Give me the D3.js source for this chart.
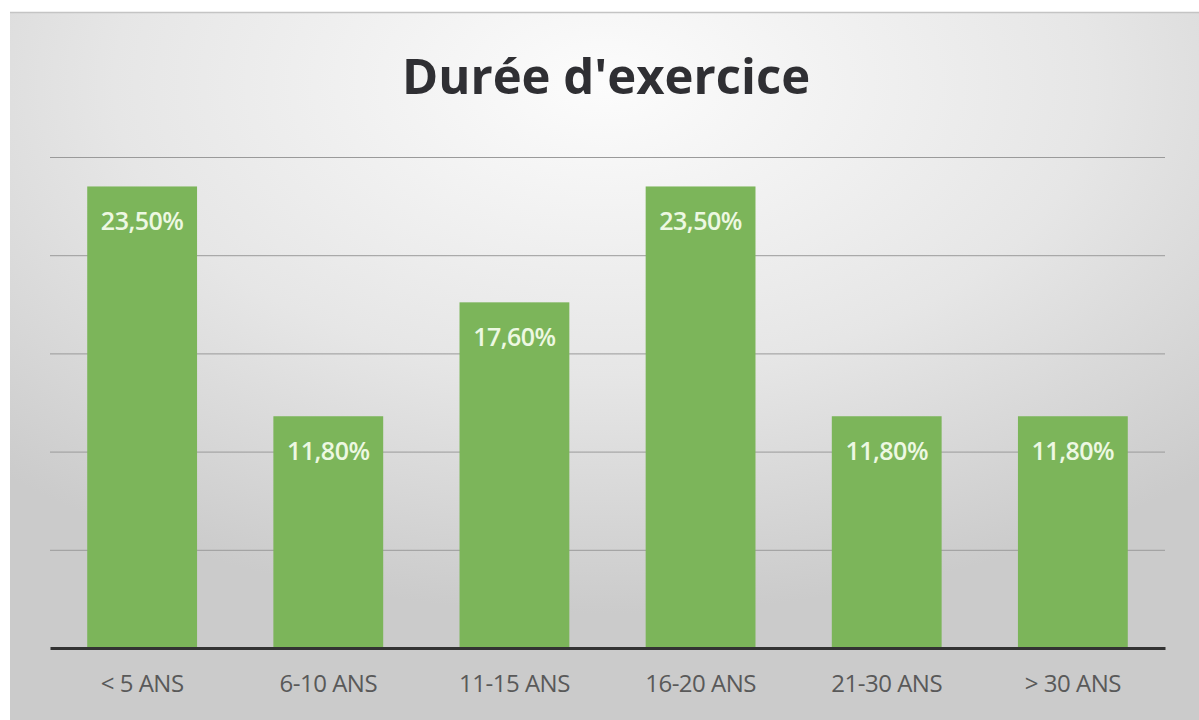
<!DOCTYPE html>
<html>
<head>
<meta charset="utf-8">
<script src="https://cdn.jsdelivr.net/npm/d3@7"></script>
<style>
  body { margin: 0; background: #fff; }
</style>
</head>
<body>
<div id="chart"></div>
<script>
// Durée d'exercice - simple bar chart, percentages
const categories = ["< 5 ANS", "6-10 ANS", "11-15 ANS", "16-20 ANS", "21-30 ANS", "> 30 ANS"];
const values = [23.5, 11.8, 17.6, 23.5, 11.8, 11.8];
const yTicks = [0, 5, 10, 15, 20, 25];

const width = 1199, height = 720;
const plot = { left: 50, right: 1165, top: 157, bottom: 648 };

const svg = d3.select("#chart")
  .append("svg")
    .attr("width", width)
    .attr("height", height);

// radial background like the Excel style
const defs = svg.append("defs");
const grad = defs.append("radialGradient")
  .attr("id", "bg")
  .attr("cx", "50%").attr("cy", "10%")
  .attr("r", "75%");
grad.append("stop").attr("offset", "0%").attr("stop-color", "#fcfcfc");
grad.append("stop").attr("offset", "55%").attr("stop-color", "#e6e6e6");
grad.append("stop").attr("offset", "100%").attr("stop-color", "#cbcbcb");

svg.append("rect")
  .attr("x", 10).attr("y", 12)
  .attr("width", width - 10).attr("height", height - 12)
  .attr("fill", "url(#bg)");
svg.append("line")
  .attr("x1", 10).attr("x2", width)
  .attr("y1", 12.5).attr("y2", 12.5)
  .attr("stroke", "#c4c4c4").attr("stroke-width", 1.5);

// title
svg.append("text")
  .attr("x", 606)
  .attr("y", 94)
  .attr("text-anchor", "middle")
  .style("font-family", "'Open Sans', 'Noto Sans', sans-serif")
  .style("font-weight", "bold")
  .style("font-size", "49px")
  .style("fill", "#2f2f33")
  .text("Durée d'exercice");

const x = d3.scaleBand()
  .domain(categories)
  .range([plot.left, plot.right])
  .paddingInner(0.41)
  .paddingOuter(0.2);

const y = d3.scaleLinear()
  .domain([0, 25])
  .range([plot.bottom, plot.top]);

// gridlines (no tick labels)
svg.append("g")
  .attr("class", "grid")
  .attr("transform", `translate(${plot.left},0)`)
  .call(d3.axisLeft(y).tickValues(yTicks.slice(1)).tickSize(-(plot.right - plot.left)).tickFormat(""))
  .call(g => g.select(".domain").remove())
  .call(g => g.selectAll("line").attr("stroke", "#9a9a9a").attr("stroke-width", 1));

// bars
svg.selectAll(".bar")
  .data(values)
  .enter()
  .append("rect")
    .attr("class", "bar")
    .attr("x", (d, i) => x(categories[i]))
    .attr("width", x.bandwidth())
    .attr("y", d => y(d))
    .attr("height", d => y(0) - y(d))
    .attr("fill", "#7cb55a");

// value labels inside top of bars
svg.selectAll(".bar-label")
  .data(values)
  .enter()
  .append("text")
    .attr("class", "bar-label")
    .attr("x", (d, i) => x(categories[i]) + x.bandwidth() / 2)
    .attr("y", d => y(d) + 44)
    .attr("text-anchor", "middle")
    .style("font-family", "'Open Sans', 'Noto Sans', sans-serif")
    .style("font-weight", "600")
    .style("font-size", "25px")
    .style("letter-spacing", "-0.5px")
    .style("fill", "#edf8e2")
    .text(d => d3.format(".2f")(d).replace(".", ",") + "%");

// x axis
const xAxis = svg.append("g")
  .attr("transform", `translate(0,${plot.bottom})`)
  .call(d3.axisBottom(x).tickSize(0).tickPadding(27));
xAxis.select(".domain")
  .attr("stroke", "#333")
  .attr("stroke-width", 3);
xAxis.selectAll("text")
  .style("font-family", "'Open Sans', 'Noto Sans', sans-serif")
  .style("font-size", "24px")
  .style("letter-spacing", "-0.5px")
  .style("fill", "#595959");
</script>
</body>
</html>
